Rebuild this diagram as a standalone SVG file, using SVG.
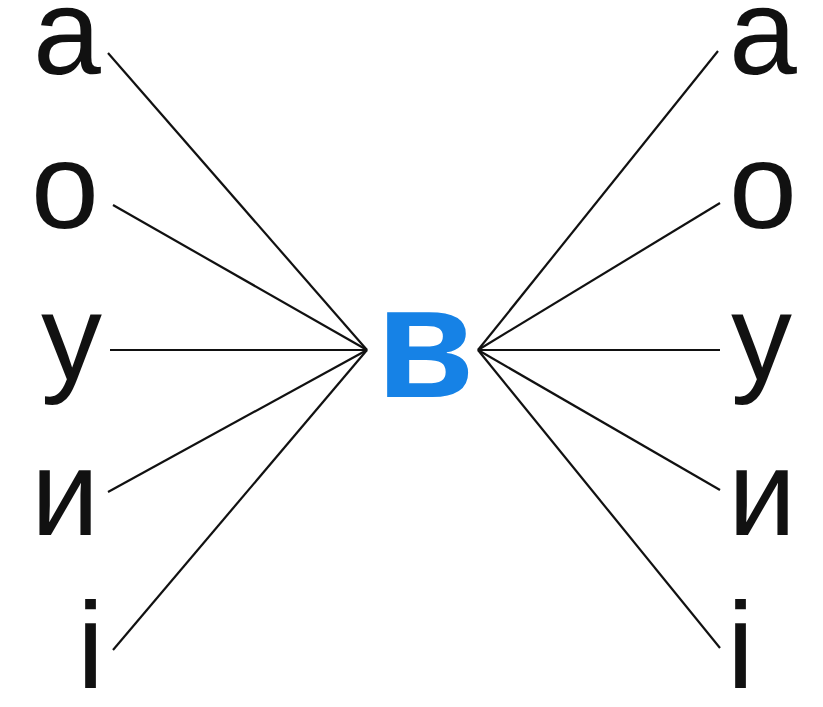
<svg xmlns="http://www.w3.org/2000/svg" width="823" height="707" viewBox="0 0 823 707">
<style>
.l{font-family:"Liberation Sans",Arial,sans-serif;font-size:122px;fill:#111}
.c{font-family:"Liberation Sans",Arial,sans-serif;font-size:160px;font-weight:bold;fill:#1682e6}
.k{stroke:#111;stroke-width:2.2;fill:none}
</style>
<rect width="823" height="707" fill="#fff"/>
<g id="connectors">
<line class="k" x1="108" y1="53" x2="367" y2="350"/>
<line class="k" x1="113" y1="205" x2="367" y2="350"/>
<line class="k" x1="110" y1="350" x2="367" y2="350"/>
<line class="k" x1="108" y1="492" x2="367" y2="350"/>
<line class="k" x1="113" y1="650" x2="367" y2="350"/>
<line class="k" x1="718" y1="51" x2="478" y2="350"/>
<line class="k" x1="720" y1="203" x2="478" y2="350"/>
<line class="k" x1="720" y1="350" x2="478" y2="350"/>
<line class="k" x1="720" y1="490" x2="478" y2="350"/>
<line class="k" x1="720" y1="648" x2="478" y2="350"/>
</g>
<g id="center"><text class="c" x="376" y="397">в</text></g>
<g id="left-a"><text class="l" x="33" y="74">а</text></g>
<g id="left-o"><text class="l" x="31" y="228">о</text></g>
<g id="left-u"><text class="l" x="41" y="380">у</text></g>
<g id="left-i"><text class="l" x="31" y="535">и</text></g>
<g id="left-ii"><text class="l" x="77" y="688">і</text></g>
<g id="right-a"><text class="l" x="729" y="74">а</text></g>
<g id="right-o"><text class="l" x="729" y="228">о</text></g>
<g id="right-u"><text class="l" x="731" y="380">у</text></g>
<g id="right-i"><text class="l" x="728" y="535">и</text></g>
<g id="right-ii"><text class="l" x="727" y="688">і</text></g>
</svg>
